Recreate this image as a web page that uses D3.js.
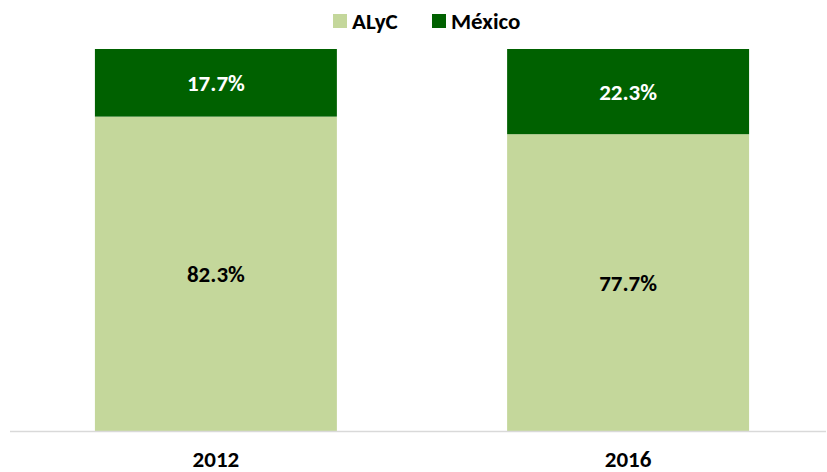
<!DOCTYPE html>
<html>
<head>
<meta charset="utf-8">
<script src="https://cdn.jsdelivr.net/npm/d3@7"></script>
<style>
  body { margin: 0; background: #fff; }
  text { font-family: Carlito, Lato, "Liberation Sans", sans-serif; font-weight: bold; }
</style>
</head>
<body>
<svg id="chart" width="827" height="472"></svg>
<script>
// data
var years = ["2012", "2016"];
var alyc = [82.3, 77.7];
var mexico = [17.7, 22.3];
var seriesNames = ["ALyC", "México"];
var seriesColors = ["#c4d79b", "#006100"];
var labelColors = ["#000000", "#ffffff"];

var svg = d3.select("#chart");

var x = d3.scaleBand()
    .domain(years)
    .range([10, 834])
    .paddingInner(0.413)
    .paddingOuter(0.206);

var y = d3.scaleLinear()
    .domain([0, 100])
    .range([431, 49]);

var rows = years.map(function (yr, i) {
    return { year: yr, "ALyC": alyc[i], "México": mexico[i] };
});

var stack = d3.stack().keys(seriesNames);
var layers = stack(rows);

var g = svg.append("g");

layers.forEach(function (layer, li) {
    g.selectAll(".bar-" + li)
        .data(layer)
        .enter()
        .append("rect")
        .attr("x", function (d) { return x(d.data.year); })
        .attr("width", x.bandwidth())
        .attr("y", function (d) { return y(d[1]); })
        .attr("height", function (d) { return y(d[0]) - y(d[1]); })
        .attr("fill", seriesColors[li]);

    g.selectAll(".lbl-" + li)
        .data(layer)
        .enter()
        .append("text")
        .attr("x", function (d) { return x(d.data.year) + x.bandwidth() / 2; })
        .attr("y", function (d) { return (y(d[0]) + y(d[1])) / 2; })
        .attr("dy", "0.35em")
        .attr("text-anchor", "middle")
        .attr("font-size", "23px")
        .attr("fill", labelColors[li])
        .text(function (d) { return (d[1] - d[0]).toFixed(1) + "%"; });
});

// axis line
svg.append("line")
    .attr("x1", 10)
    .attr("x2", 826)
    .attr("y1", 431.5)
    .attr("y2", 431.5)
    .attr("stroke", "#d9d9d9")
    .attr("stroke-width", 1.5);

var xAxis = svg.append("g")
    .attr("transform", "translate(0,431)")
    .call(d3.axisBottom(x).tickSize(0).tickPadding(20));
xAxis.select(".domain").remove();
xAxis.selectAll("text")
    .attr("font-size", "23px")
    .attr("fill", "#000")
    .style("font-family", "Carlito, Lato, 'Liberation Sans', sans-serif")
    .style("font-weight", "bold");

// legend
var legendX = [333, 432];
var legend = svg.selectAll(".legend")
    .data(seriesNames)
    .enter()
    .append("g")
    .attr("transform", function (d, i) { return "translate(" + legendX[i] + ",14)"; });

legend.append("rect")
    .attr("width", 14)
    .attr("height", 14)
    .attr("fill", function (d, i) { return seriesColors[i]; });

legend.append("text")
    .attr("x", 19)
    .attr("y", 7)
    .attr("dy", "0.35em")
    .attr("font-size", "23px")
    .attr("fill", "#000")
    .text(function (d) { return d; });
</script>
</body>
</html>
